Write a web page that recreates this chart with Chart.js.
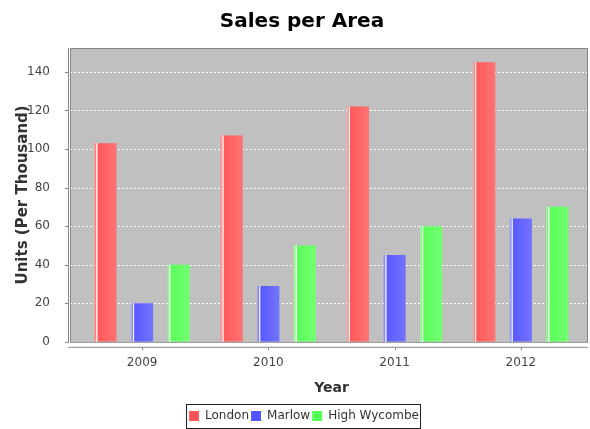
<!DOCTYPE html>
<html>
<head>
<meta charset="utf-8">
<script src="https://cdn.jsdelivr.net/npm/chart.js@4"></script>
<style>
  html, body { margin: 0; padding: 0; background: #fff; }
  #wrap { width: 590px; height: 429px; }
</style>
</head>
<body>
<div id="wrap"><canvas id="sales-chart" width="590" height="429"></canvas></div>
<script>
var years = ["2009", "2010", "2011", "2012"];
var london = [103, 107, 122, 145];
var marlow = [20, 29, 45, 64];
var highWycombe = [40, 50, 60, 70];
var yTicks = [0, 20, 40, 60, 80, 100, 120, 140];

var AXIS_GREY = "#888888";

// JFreeChart-ish plot: grey panel wider than the category range, dashed white grid,
// offset axis lines, gradient bars with a white highlight strip
var plotDecor = {
    id: "plotDecor",
    afterLayout: function (chart) {
        // title and legend sit a little right of the canvas centre in the original
        var lg = chart.legend, tb = chart.titleBlock;
        lg.left += 12; lg.right += 12;
        lg.legendHitBoxes.forEach(function (h) { h.left += 12; });
        tb.left += 10; tb.right += 10;
    },
    beforeDatasetsDraw: function (chart) {
        var ctx = chart.ctx, a = chart.chartArea, y = chart.scales.y, x = chart.scales.x;
        var left = a.left - 9, right = a.right + 4;
        ctx.save();
        ctx.fillStyle = "#c0c0c0";
        ctx.fillRect(left, a.top, right - left, a.bottom - a.top);
        ctx.strokeStyle = "#ffffff";
        ctx.lineWidth = 1;
        ctx.setLineDash([2, 2]);
        y.ticks.forEach(function (t) {
            if (t.value === 0) return;
            var py = Math.round(y.getPixelForValue(t.value)) + 0.5;
            ctx.beginPath(); ctx.moveTo(left, py); ctx.lineTo(right, py); ctx.stroke();
        });
        ctx.setLineDash([]);
        ctx.strokeStyle = AXIS_GREY;
        ctx.strokeRect(left + 0.5, a.top + 0.5, right - left - 1, a.bottom - a.top);
        // y axis line + ticks
        ctx.beginPath(); ctx.moveTo(left - 1.5, a.top); ctx.lineTo(left - 1.5, a.bottom + 1); ctx.stroke();
        y.ticks.forEach(function (t) {
            var py = Math.round(y.getPixelForValue(t.value)) + 0.5;
            ctx.beginPath(); ctx.moveTo(left - 5, py); ctx.lineTo(left - 1, py); ctx.stroke();
        });
        // x axis line + ticks
        var ay = a.bottom + 5.5;
        ctx.beginPath(); ctx.moveTo(left - 2, ay); ctx.lineTo(right, ay); ctx.stroke();
        x.ticks.forEach(function (t, i) {
            var px = Math.round(x.getPixelForTick(i)) + 0.5;
            ctx.beginPath(); ctx.moveTo(px, ay); ctx.lineTo(px, ay + 3); ctx.stroke();
        });
        ctx.restore();
    },
    afterDatasetsDraw: function (chart) {
        var ctx = chart.ctx;
        ctx.save();
        chart.data.datasets.forEach(function (ds, di) {
            chart.getDatasetMeta(di).data.forEach(function (bar) {
                var p = bar.getProps(["x", "y", "base", "width"], true);
                var l = p.x - p.width / 2, w = p.width, h = p.base - p.y;
                var g = ctx.createLinearGradient(l, 0, l + w, 0);
                g.addColorStop(0, "rgba(255,255,255,0)");
                g.addColorStop(1, "rgba(255,255,255,0.18)");
                ctx.fillStyle = g;
                ctx.fillRect(l, p.y, w, h);
                ctx.fillStyle = "rgba(255,255,255,0.45)";
                ctx.fillRect(l, p.y, 1, h);
                ctx.fillStyle = "rgba(255,255,255,0.9)";
                ctx.fillRect(l + 1.5, p.y, 1.5, h);
            });
        });
        ctx.restore();
    },
    afterDraw: function (chart) {
        var boxes = chart.legend.legendHitBoxes;
        if (!boxes || !boxes.length) return;
        var l = Infinity, r = -Infinity, t = Infinity, b = -Infinity;
        boxes.forEach(function (h) {
            l = Math.min(l, h.left); r = Math.max(r, h.left + h.width);
            t = Math.min(t, h.top); b = Math.max(b, h.top + h.height);
        });
        var cy = (t + b) / 2;
        var ctx = chart.ctx;
        ctx.save();
        ctx.strokeStyle = "#222";
        ctx.lineWidth = 1;
        ctx.strokeRect(Math.round(l - 3) + 0.5, Math.round(cy - 12) + 0.5, Math.round(r - l + 4), 24);
        ctx.restore();
    }
};

new Chart(document.getElementById("sales-chart"), {
    type: "bar",
    data: {
        labels: years,
        datasets: [
            { label: "London", data: london, backgroundColor: "#ff5555" },
            { label: "Marlow", data: marlow, backgroundColor: "#5555ff" },
            { label: "High Wycombe", data: highWycombe, backgroundColor: "#55ff55" }
        ]
    },
    options: {
        responsive: false,
        animation: false,
        devicePixelRatio: 1,
        layout: { padding: { left: 0, right: 6, top: 0, bottom: -3 } },
        datasets: { bar: { categoryPercentage: 0.87, barPercentage: 0.6 } },
        plugins: {
            title: {
                display: true,
                text: "Sales per Area",
                color: "#000",
                font: { family: "DejaVu Sans", size: 20, weight: "bold" },
                padding: { top: 10, bottom: 14 }
            },
            legend: {
                position: "bottom",
                labels: {
                    color: "#333",
                    font: { family: "DejaVu Sans", size: 12 },
                    boxWidth: 10,
                    boxHeight: 10,
                    padding: 2
                }
            },
            tooltip: { enabled: false }
        },
        scales: {
            x: {
                grid: { display: false },
                border: { display: false },
                ticks: { color: "#444", font: { family: "DejaVu Sans", size: 12 }, padding: 5.5 },
                title: {
                    display: true, text: "Year", color: "#333",
                    font: { family: "DejaVu Sans", size: 14, weight: "bold" },
                    padding: { top: 5, bottom: 11 }
                }
            },
            y: {
                min: 0,
                max: 152.4,
                afterBuildTicks: function (s) { s.ticks = yTicks.map(function (v) { return { value: v }; }); },
                afterFit: function (s) { s.width = 79; },
                grid: { display: false },
                border: { display: false },
                ticks: { color: "#444", font: { family: "DejaVu Sans", size: 12 }, padding: 21 },
                title: {
                    display: true, text: "Units (Per Thousand)", color: "#333",
                    font: { family: "DejaVu Sans", size: 15, weight: "bold" },
                    padding: { top: 14, bottom: 0 }
                }
            }
        }
    },
    plugins: [plotDecor]
});
</script>
</body>
</html>
